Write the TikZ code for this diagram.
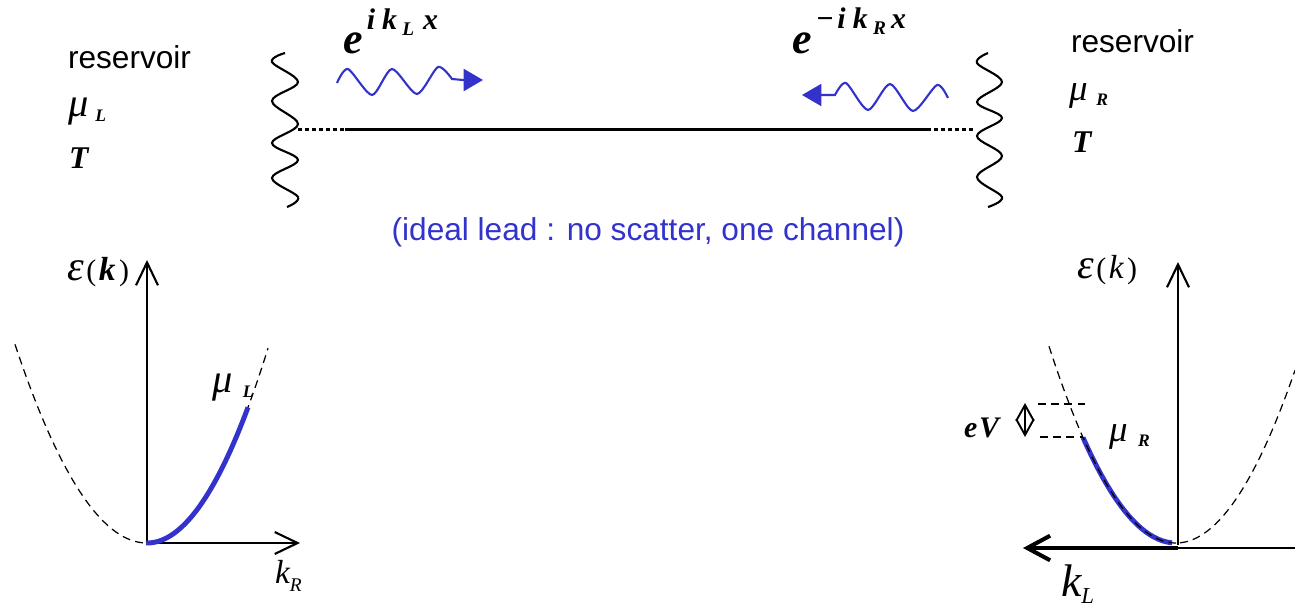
\documentclass[tikz,border=0pt]{standalone}
\usepackage{fontspec}
\setmainfont{Liberation Sans}
\newfontfamily\tms{Liberation Serif}
\usetikzlibrary{arrows.meta}
\definecolor{wblue}{RGB}{51,51,204}
\newcommand\fs[1]{\fontsize{#1}{#1}\selectfont}
\begin{document}
\begin{tikzpicture}[x=0.02cm,y=-0.02cm,
  lbl/.style={anchor=base west,inner sep=0pt,outer sep=0pt},
  sans/.style={lbl,font=\fs{18}},
  serif/.style={lbl,font=\tms},
  axis/.style={line width=1.2pt,-{Straight Barb[length=13pt,width=12.5pt]}},
  dispdash/.style={line width=0.7pt,dash pattern=on 4.5pt off 3pt},
  occ/.style={wblue,line width=2.8pt},
  wave/.style={line width=1.2pt},
  bwave/.style={wblue,line width=1.2pt,-{Triangle[length=11pt,width=12.5pt]}},
  lead/.style={line width=1.7pt},
  leaddot/.style={line width=1.7pt,dash pattern=on 2.3pt off 1.7pt},
]
\useasboundingbox (0,0) rectangle (1295,606);

% ---------- reservoir walls ----------
\draw[wave] plot[smooth,tension=0.6] coordinates {(285,53) (272,62) (298,82) (272,101) (298,124) (272,143) (298,160) (272,178) (298,197) (287,207)};
\draw[wave] plot[smooth,tension=0.6] coordinates {(988,53) (977,63) (1002,82) (977,102) (1002,118) (977,136) (1002,156) (977,177) (1002,197) (988,207)};

% ---------- lead ----------
\coordinate (leadL) at (298,129);
\coordinate (leadA) at (345,129);
\coordinate (leadB) at (927,129);
\coordinate (leadR) at (976,129);
\draw[leaddot] (leadL) -- (leadA);
\draw[lead] (leadA) -- (leadB);
\draw[leaddot] (leadB) -- (leadR);

% ---------- incoming waves ----------
\coordinate (tipL) at (483,80);
\coordinate (tipR) at (802,95);
\draw[bwave] plot[smooth,tension=0.45] coordinates {(337,83) (348,69) (372,95) (392,69) (417,94) (438,67) (452,79)} -- (463,80) -- (tipL);
\draw[bwave] plot[smooth,tension=0.45] coordinates {(948,98) (937,85) (913,111) (890,84) (868,110) (846,83) (835,95)} -- (823,95) -- (tipR);

% ---------- top labels ----------
\node[sans] (resL) at (68,68) {reservoir};
\node[serif,font=\tms\itshape] (muL) at (68,116) {\fs{23}μ\kern4pt\raisebox{-3.4pt}{\fs{10}\bfseries L}};
\node[serif,font=\tms\bfseries\itshape\fs{18}] (TL) at (69,168) {T};
\node[sans] (resR) at (1071,52) {reservoir};
\node[serif,font=\tms\itshape] (muR) at (1069,100) {\fs{21}μ\kern5pt\raisebox{-3.4pt}{\fs{10}\bfseries R}};
\node[serif,font=\tms\bfseries\itshape\fs{18}] (TR) at (1072,152) {T};

\node[serif,font=\tms\bfseries\itshape] (expL) at (343,53)
  {\fs{25}e\raisebox{13.5pt}{\fs{17}\kern2.5pt i\kern4pt k\kern3pt\raisebox{-3.5pt}{\fs{11}L}\kern5pt x}};
\node[serif,font=\tms\bfseries\itshape] (expR) at (792,53)
  {\fs{25}e\raisebox{14pt}{\fs{17}\kern2.5pt −\kern2pt i\kern4pt k\kern3pt\raisebox{-3.5pt}{\fs{11}R}\kern3pt x}};

\node[anchor=base,inner sep=0pt,font=\fs{18},text=wblue] (cap) at (648,240) {(ideal lead : no scatter, one channel)};

% ---------- left dispersion ----------
\coordinate (O1) at (147,543);
\coordinate (Y1) at (147,260);
\coordinate (X1) at (300,543);
\draw[axis] (O1) -- (Y1);
\draw[axis] (O1) -- (X1);
\draw[dispdash] plot[domain=15:147,samples=40] (\x,{543-1.14*((\x-147)/10)^2});
\draw[dispdash] plot[domain=147:268,samples=40] (\x,{543-1.33*((\x-147)/10)^2});
\draw[occ] plot[domain=146:248,samples=40] (\x,{543-1.33*((\x-147)/10)^2});

\node[serif,font=\tms\fs{17}] (epsL) at (67,280) {{\fs{24}\itshape ε}\kern1.5pt(\kern1.5pt{\fs{19}\bfseries\itshape k}\kern2pt)};
\node[serif,font=\tms\itshape] (kR) at (275,583) {\fs{19}k\raisebox{-5pt}{\fs{11}R}};
\node[serif,font=\tms\itshape] (muL2) at (212,392) {\fs{23}μ\kern6pt\raisebox{-3pt}{\fs{10}\bfseries L}};

% ---------- right dispersion ----------
\coordinate (O2) at (1178,548);
\coordinate (Y2) at (1178,262);
\coordinate (X2) at (1023,548);
\coordinate (E2) at (1295,548);
\draw[axis] (1178,545) -- (Y2);
\draw[line width=0.9pt] (O2) -- (E2);
\draw[line width=2.3pt,-{Straight Barb[length=13pt,width=14pt]}] (O2) -- (X2);
\draw[occ] plot[domain=1083:1172,samples=40] (\x,{543-1.22*((\x-1176)/10)^2});
\draw[dispdash] plot[domain=1049:1176,samples=40] (\x,{543-1.22*((\x-1176)/10)^2});
\draw[dispdash] plot[domain=1180:1295,samples=40] (\x,{543-1.22*((\x-1176)/10)^2});

\coordinate (muRa) at (1038,404);
\coordinate (muRb) at (1085,404);
\coordinate (muRc) at (1040,437);
\coordinate (muRd) at (1083,437);
\draw[dispdash] (muRa) -- (muRb);
\draw[dispdash] (muRc) -- (muRd);
\coordinate (eVtop) at (1025,403);
\coordinate (eVbot) at (1025,437);
\draw[line width=1.1pt,{Straight Barb[length=9pt,width=10pt]}-{Straight Barb[length=9pt,width=10pt]}] (eVtop) -- (eVbot);

\node[serif,font=\tms\fs{17}] (epsR) at (1077,278) {{\fs{24}\itshape ε}\kern1.5pt(\kern1.5pt{\fs{19}\itshape k}\kern2pt)};
\node[serif,font=\tms\bfseries\itshape\fs{17}] (eV) at (964,437) {e\kern1pt V};
\node[serif,font=\tms\itshape] (muR2) at (1109,441) {\fs{21}μ\kern6pt\raisebox{-3pt}{\fs{10}\bfseries R}};
\node[serif,font=\tms\itshape] (kL) at (1061,596) {\fs{26}k\raisebox{-4pt}{\fs{13}L}};
\end{tikzpicture}
\end{document}
